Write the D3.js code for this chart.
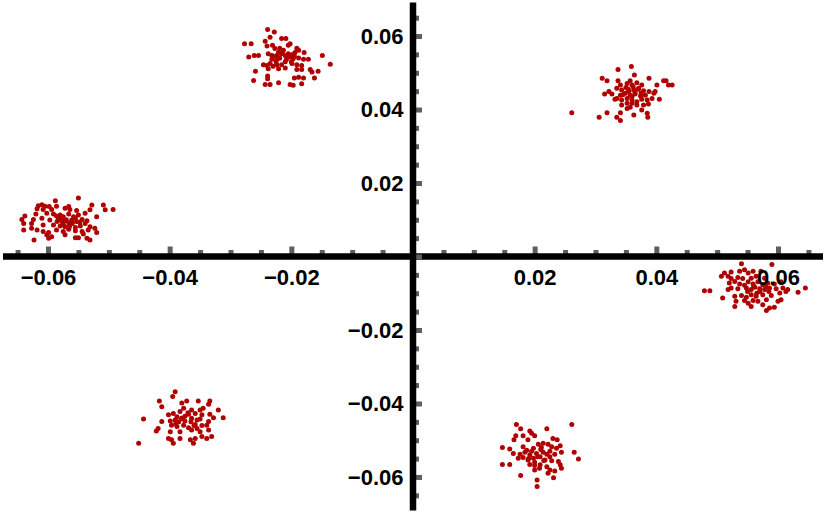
<!DOCTYPE html>
<html>
<head>
<meta charset="utf-8">
<script src="https://cdn.jsdelivr.net/npm/d3@7"></script>
<style>
  html, body { margin: 0; padding: 0; background: #fff; }
  svg { display: block; }
</style>
</head>
<body>
<svg id="chart" width="830" height="517"></svg>
<script>
// ---- data ----
const cluster1 = [
  [-0.0550,0.0159],[-0.0588,0.0152],[-0.0616,0.0138],[-0.0610,0.0141],[-0.0605,0.0137],[-0.0598,0.0136],
  [-0.0586,0.0137],[-0.0566,0.0136],[-0.0528,0.0140],[-0.0509,0.0140],[-0.0618,0.0130],[-0.0608,0.0128],
  [-0.0594,0.0128],[-0.0572,0.0131],[-0.0564,0.0128],[-0.0553,0.0125],[-0.0531,0.0127],[-0.0506,0.0127],
  [-0.0493,0.0128],[-0.0638,0.0110],[-0.0620,0.0116],[-0.0602,0.0118],[-0.0591,0.0116],[-0.0586,0.0110],
  [-0.0580,0.0113],[-0.0575,0.0108],[-0.0566,0.0116],[-0.0558,0.0108],[-0.0550,0.0113],[-0.0539,0.0118],
  [-0.0520,0.0108],[-0.0643,0.0101],[-0.0624,0.0101],[-0.0610,0.0104],[-0.0597,0.0099],[-0.0583,0.0101],
  [-0.0577,0.0095],[-0.0572,0.0097],[-0.0566,0.0092],[-0.0561,0.0099],[-0.0553,0.0095],[-0.0544,0.0101],
  [-0.0536,0.0097],[-0.0640,0.0090],[-0.0627,0.0090],[-0.0608,0.0086],[-0.0591,0.0086],[-0.0580,0.0083],
  [-0.0572,0.0081],[-0.0564,0.0086],[-0.0555,0.0079],[-0.0547,0.0083],[-0.0539,0.0090],[-0.0531,0.0081],
  [-0.0640,0.0072],[-0.0627,0.0077],[-0.0618,0.0072],[-0.0608,0.0068],[-0.0599,0.0065],[-0.0586,0.0072],
  [-0.0575,0.0068],[-0.0566,0.0074],[-0.0555,0.0070],[-0.0544,0.0068],[-0.0534,0.0072],[-0.0523,0.0077],
  [-0.0602,0.0059],[-0.0594,0.0054],[-0.0572,0.0059],[-0.0555,0.0051],[-0.0550,0.0051],[-0.0536,0.0050],
  [-0.0531,0.0045],[-0.0542,0.0061],[-0.0520,0.0065],[-0.0623,0.0045],[-0.0599,0.0050],
  [-0.0580,0.0105],[-0.0570,0.0100],[-0.0560,0.0090],[-0.0575,0.0088],[-0.0585,0.0095],[-0.0555,0.0105],
  [-0.0548,0.0093],[-0.0565,0.0080]
];
const cluster2 = [
  [-0.0239,0.0618],[-0.0228,0.0611],[-0.0235,0.0597],[-0.0243,0.0586],[-0.0216,0.0593],[-0.0209,0.0593],
  [-0.0277,0.0579],[-0.0266,0.0579],[-0.0240,0.0573],[-0.0231,0.0575],[-0.0205,0.0575],[-0.0202,0.0579],
  [-0.0227,0.0566],[-0.0219,0.0567],[-0.0213,0.0561],[-0.0191,0.0567],[-0.0188,0.0561],[-0.0221,0.0556],
  [-0.0238,0.0552],[-0.0270,0.0543],[-0.0261,0.0547],[-0.0254,0.0547],[-0.0232,0.0547],[-0.0224,0.0547],
  [-0.0216,0.0552],[-0.0210,0.0547],[-0.0205,0.0552],[-0.0199,0.0549],[-0.0194,0.0555],[-0.0179,0.0555],
  [-0.0149,0.0547],[-0.0232,0.0537],[-0.0224,0.0537],[-0.0219,0.0540],[-0.0208,0.0537],[-0.0202,0.0543],
  [-0.0197,0.0538],[-0.0188,0.0540],[-0.0180,0.0537],[-0.0172,0.0537],[-0.0246,0.0522],[-0.0240,0.0520],
  [-0.0235,0.0525],[-0.0230,0.0518],[-0.0224,0.0522],[-0.0216,0.0522],[-0.0199,0.0525],[-0.0191,0.0522],
  [-0.0183,0.0520],[-0.0136,0.0523],[-0.0259,0.0504],[-0.0238,0.0511],[-0.0221,0.0511],[-0.0210,0.0513],
  [-0.0191,0.0509],[-0.0183,0.0509],[-0.0169,0.0509],[-0.0166,0.0502],[-0.0156,0.0504],[-0.0239,0.0491],
  [-0.0239,0.0484],[-0.0195,0.0486],[-0.0188,0.0488],[-0.0180,0.0486],[-0.0162,0.0486],[-0.0262,0.0479],
  [-0.0243,0.0468],[-0.0235,0.0468],[-0.0221,0.0473],[-0.0202,0.0468],[-0.0197,0.0466],[-0.0183,0.0470],
  [-0.0215,0.0555],[-0.0205,0.0545],[-0.0225,0.0530],[-0.0210,0.0530],[-0.0195,0.0545],[-0.0230,0.0545],
  [-0.0220,0.0540],[-0.0200,0.0530]
];
const cluster3 = [
  [0.0337,0.0509],[0.0359,0.0517],[0.0311,0.0485],[0.0319,0.0478],[0.0337,0.0478],[0.0364,0.0494],
  [0.0357,0.0478],[0.0388,0.0485],[0.0412,0.0478],[0.0416,0.0478],[0.0341,0.0467],[0.0352,0.0471],
  [0.0360,0.0467],[0.0368,0.0473],[0.0376,0.0467],[0.0401,0.0467],[0.0420,0.0467],[0.0426,0.0467],
  [0.0322,0.0449],[0.0315,0.0442],[0.0327,0.0442],[0.0335,0.0458],[0.0343,0.0453],[0.0354,0.0455],
  [0.0363,0.0453],[0.0371,0.0458],[0.0379,0.0451],[0.0388,0.0449],[0.0398,0.0449],[0.0335,0.0430],
  [0.0341,0.0439],[0.0349,0.0444],[0.0357,0.0439],[0.0365,0.0442],[0.0374,0.0437],[0.0382,0.0439],
  [0.0396,0.0444],[0.0332,0.0428],[0.0343,0.0426],[0.0352,0.0430],[0.0360,0.0426],[0.0368,0.0421],
  [0.0376,0.0428],[0.0385,0.0426],[0.0393,0.0430],[0.0405,0.0428],[0.0343,0.0412],[0.0352,0.0417],
  [0.0360,0.0417],[0.0368,0.0412],[0.0379,0.0412],[0.0387,0.0415],[0.0352,0.0403],[0.0357,0.0406],
  [0.0376,0.0399],[0.0261,0.0391],[0.0319,0.0391],[0.0341,0.0391],[0.0363,0.0385],[0.0385,0.0390],
  [0.0306,0.0379],[0.0335,0.0379],[0.0341,0.0370],[0.0386,0.0379],
  [0.0355,0.0450],[0.0365,0.0445],[0.0345,0.0440],[0.0370,0.0455],[0.0360,0.0435],[0.0350,0.0460],
  [0.0375,0.0445],[0.0362,0.0462]
];
const cluster4 = [
  [0.0540,-0.0020],[0.0590,-0.0022],[0.0512,-0.0045],[0.0523,-0.0042],[0.0537,-0.0040],[0.0545,-0.0036],
  [0.0551,-0.0045],[0.0559,-0.0040],[0.0572,-0.0040],[0.0507,-0.0054],[0.0518,-0.0054],[0.0523,-0.0060],
  [0.0534,-0.0057],[0.0542,-0.0060],[0.0556,-0.0059],[0.0564,-0.0054],[0.0578,-0.0059],[0.0479,-0.0093],
  [0.0488,-0.0093],[0.0520,-0.0072],[0.0529,-0.0068],[0.0537,-0.0075],[0.0551,-0.0069],[0.0559,-0.0075],
  [0.0567,-0.0069],[0.0575,-0.0077],[0.0583,-0.0072],[0.0594,-0.0075],[0.0605,-0.0069],[0.0518,-0.0090],
  [0.0523,-0.0086],[0.0534,-0.0088],[0.0548,-0.0086],[0.0556,-0.0090],[0.0562,-0.0084],[0.0570,-0.0088],
  [0.0578,-0.0090],[0.0586,-0.0086],[0.0597,-0.0088],[0.0608,-0.0086],[0.0616,-0.0090],[0.0633,-0.0097],
  [0.0645,-0.0086],[0.0509,-0.0113],[0.0529,-0.0108],[0.0540,-0.0106],[0.0548,-0.0111],[0.0556,-0.0104],
  [0.0564,-0.0108],[0.0575,-0.0104],[0.0589,-0.0106],[0.0603,-0.0099],[0.0613,-0.0095],[0.0531,-0.0122],
  [0.0545,-0.0120],[0.0551,-0.0127],[0.0559,-0.0120],[0.0567,-0.0122],[0.0581,-0.0118],[0.0600,-0.0122],
  [0.0605,-0.0118],[0.0529,-0.0136],[0.0556,-0.0136],[0.0575,-0.0131],[0.0594,-0.0138],[0.0581,-0.0147],
  [0.0586,-0.0140],
  [0.0560,-0.0080],[0.0570,-0.0095],[0.0550,-0.0095],[0.0580,-0.0082],[0.0565,-0.0100],[0.0545,-0.0078],
  [0.0585,-0.0095]
];
const cluster5 = [
  [0.0170,-0.0457],[0.0261,-0.0457],[0.0177,-0.0469],[0.0192,-0.0475],[0.0220,-0.0469],[0.0169,-0.0488],
  [0.0181,-0.0488],[0.0195,-0.0481],[0.0200,-0.0488],[0.0230,-0.0495],[0.0237,-0.0499],[0.0166,-0.0499],
  [0.0189,-0.0499],[0.0214,-0.0508],[0.0222,-0.0511],[0.0242,-0.0515],[0.0206,-0.0511],[0.0147,-0.0520],
  [0.0159,-0.0524],[0.0181,-0.0518],[0.0187,-0.0527],[0.0198,-0.0522],[0.0211,-0.0520],[0.0228,-0.0518],
  [0.0236,-0.0522],[0.0244,-0.0533],[0.0265,-0.0533],[0.0165,-0.0536],[0.0176,-0.0538],[0.0184,-0.0533],
  [0.0192,-0.0540],[0.0203,-0.0536],[0.0214,-0.0533],[0.0220,-0.0538],[0.0225,-0.0545],[0.0233,-0.0538],
  [0.0173,-0.0549],[0.0181,-0.0547],[0.0189,-0.0554],[0.0198,-0.0549],[0.0209,-0.0545],[0.0217,-0.0554],
  [0.0228,-0.0556],[0.0239,-0.0558],[0.0272,-0.0551],[0.0147,-0.0566],[0.0159,-0.0566],[0.0192,-0.0566],
  [0.0200,-0.0569],[0.0209,-0.0567],[0.0220,-0.0572],[0.0242,-0.0567],[0.0244,-0.0576],[0.0200,-0.0581],
  [0.0208,-0.0576],[0.0225,-0.0581],[0.0233,-0.0584],[0.0177,-0.0596],[0.0222,-0.0590],[0.0231,-0.0602],
  [0.0204,-0.0608],[0.0204,-0.0626],
  [0.0205,-0.0545],[0.0195,-0.0530],[0.0215,-0.0555],[0.0210,-0.0525],[0.0225,-0.0530],[0.0190,-0.0550],
  [0.0200,-0.0560]
];
const cluster6 = [
  [-0.0391,-0.0368],[-0.0395,-0.0381],[-0.0417,-0.0393],[-0.0413,-0.0409],[-0.0372,-0.0393],[-0.0353,-0.0393],
  [-0.0334,-0.0393],[-0.0336,-0.0402],[-0.0380,-0.0399],[-0.0377,-0.0413],[-0.0364,-0.0418],[-0.0350,-0.0418],
  [-0.0345,-0.0413],[-0.0320,-0.0418],[-0.0443,-0.0442],[-0.0402,-0.0431],[-0.0394,-0.0427],[-0.0383,-0.0422],
  [-0.0388,-0.0436],[-0.0369,-0.0429],[-0.0358,-0.0427],[-0.0347,-0.0431],[-0.0334,-0.0429],[-0.0328,-0.0439],
  [-0.0312,-0.0439],[-0.0413,-0.0449],[-0.0399,-0.0448],[-0.0391,-0.0445],[-0.0380,-0.0440],[-0.0375,-0.0448],
  [-0.0364,-0.0440],[-0.0355,-0.0445],[-0.0350,-0.0442],[-0.0336,-0.0449],[-0.0419,-0.0468],[-0.0422,-0.0475],
  [-0.0397,-0.0459],[-0.0388,-0.0463],[-0.0377,-0.0459],[-0.0369,-0.0466],[-0.0358,-0.0457],[-0.0347,-0.0460],
  [-0.0339,-0.0459],[-0.0399,-0.0477],[-0.0383,-0.0477],[-0.0364,-0.0472],[-0.0355,-0.0468],[-0.0350,-0.0477],
  [-0.0336,-0.0472],[-0.0402,-0.0495],[-0.0397,-0.0499],[-0.0383,-0.0495],[-0.0366,-0.0499],[-0.0358,-0.0495],
  [-0.0347,-0.0490],[-0.0339,-0.0495],[-0.0331,-0.0490],[-0.0451,-0.0508],[-0.0394,-0.0508],[-0.0361,-0.0508],
  [-0.0375,-0.0435],[-0.0385,-0.0450],[-0.0365,-0.0450],[-0.0370,-0.0425],[-0.0380,-0.0440],[-0.0360,-0.0460],
  [-0.0390,-0.0455]
];
const majorTicks = [-0.06, -0.04, -0.02, 0, 0.02, 0.04, 0.06];
const minorTicks = [-0.065,-0.055,-0.05,-0.045,-0.035,-0.03,-0.025,-0.015,-0.01,-0.005,
                     0.005,0.01,0.015,0.025,0.03,0.035,0.045,0.05,0.055,0.065];
const labelTicks = [-0.06, -0.04, -0.02, 0.02, 0.04, 0.06];
const tickLabels = ["\u22120.06", "\u22120.04", "\u22120.02", "0.02", "0.04", "0.06"];

// ---- drawing ----
const svg = d3.select("#chart");
const x = d3.scaleLinear().domain([-0.0674, 0.0674]).range([3, 823]);
const y = d3.scaleLinear().domain([-0.0691, 0.0691]).range([510.4, 2.6]);
const x0 = x(0), y0 = y(0);
const pointColor = "#b00000";
const tickColor = "#5e5e5e";
const fmt = d => tickLabels[labelTicks.indexOf(d)];

const allPoints = [].concat(cluster1, cluster2, cluster3, cluster4, cluster5, cluster6);
svg.append("g").selectAll("circle").data(allPoints).join("circle")
  .attr("cx", d => x(d[0])).attr("cy", d => y(d[1])).attr("r", 2.5)
  .attr("fill", pointColor);

function styleTicks(g, w) {
  g.select(".domain").remove();
  g.selectAll("text").remove();
  g.selectAll(".tick line").attr("stroke", tickColor).attr("stroke-width", w);
}
// x ticks (above the axis)
svg.append("g").attr("transform", `translate(0,${y0})`)
  .call(d3.axisTop(x).tickValues(minorTicks).tickSize(6.5).tickFormat(""))
  .call(g => styleTicks(g, 5));
svg.append("g").attr("transform", `translate(0,${y0})`)
  .call(d3.axisTop(x).tickValues(majorTicks).tickSize(10).tickFormat(""))
  .call(g => styleTicks(g, 5));
// x axis line
svg.append("line").attr("x1", x.range()[0]).attr("x2", x.range()[1])
  .attr("y1", y0).attr("y2", y0).attr("stroke", "#000").attr("stroke-width", 6.5);
// y ticks (right of the axis)
svg.append("g").attr("transform", `translate(${x0},0)`)
  .call(d3.axisRight(y).tickValues(minorTicks).tickSize(6).tickFormat(""))
  .call(g => styleTicks(g, 5));
svg.append("g").attr("transform", `translate(${x0},0)`)
  .call(d3.axisRight(y).tickValues(majorTicks).tickSize(9).tickFormat(""))
  .call(g => styleTicks(g, 5));
// y axis line
svg.append("line").attr("x1", x0).attr("x2", x0)
  .attr("y1", y.range()[1]).attr("y2", y.range()[0]).attr("stroke", "#000").attr("stroke-width", 6.5);

// labels
function styleLabels(g) {
  g.select(".domain").remove();
  g.selectAll(".tick line").remove();
  g.selectAll("text").attr("fill", "#000")
    .style("font-family", "'Liberation Sans', Arial, Helvetica, sans-serif")
    .style("font-weight", "bold").style("font-size", "22px");
}
svg.append("g").attr("transform", `translate(0,${y0})`)
  .call(d3.axisBottom(x).tickValues(labelTicks).tickSize(0).tickPadding(13).tickFormat(fmt))
  .call(styleLabels);
svg.append("g").attr("transform", `translate(${x0},0)`)
  .call(d3.axisLeft(y).tickValues(labelTicks).tickSize(0).tickPadding(9.5).tickFormat(fmt))
  .call(styleLabels);
</script>
</body>
</html>
